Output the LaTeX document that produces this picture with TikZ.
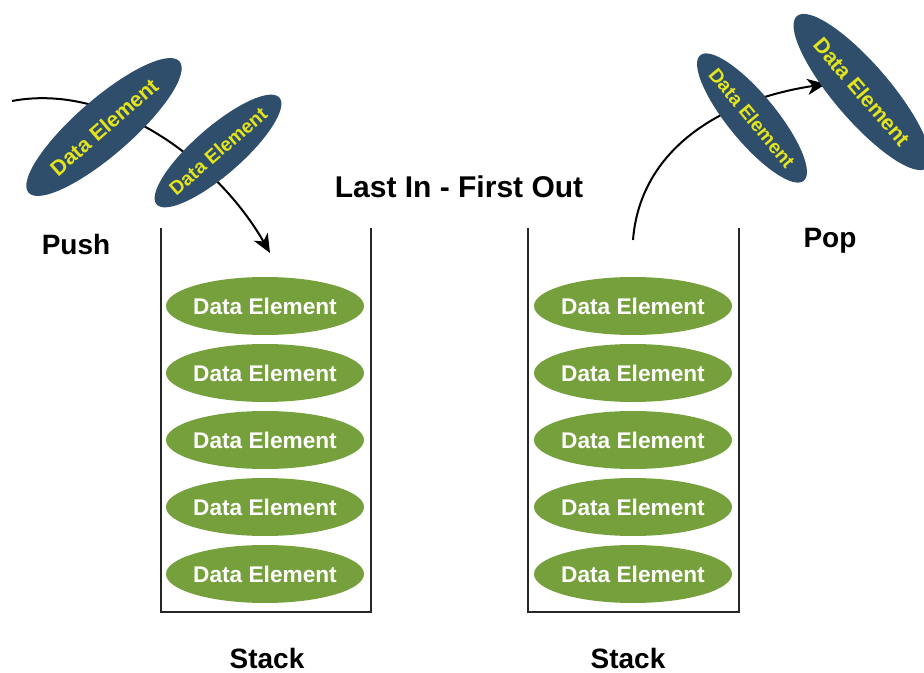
\documentclass[tikz,border=0pt]{standalone}
\usepackage{fontspec}
\setmainfont{Liberation Sans}
\usetikzlibrary{shapes.geometric,arrows.meta}
\definecolor{elgreen}{HTML}{76A03C}
\definecolor{elblue}{HTML}{2E4E6B}
\definecolor{elyellow}{HTML}{E4E41C}
\tikzset{
  greenel/.style={ellipse, fill=elgreen, draw=none, inner sep=0pt,
    minimum width=148.5pt, minimum height=43.5pt},
  greentxt/.style={inner sep=0pt, text=white,
    font=\fontsize{17}{19}\selectfont\bfseries},
  blueelbig/.style={ellipse, fill=elblue, draw=none, inner sep=0pt,
    minimum width=150pt, minimum height=42pt},
  blueelsmall/.style={ellipse, fill=elblue, draw=none, inner sep=0pt,
    minimum width=122pt, minimum height=36pt},
  bluetxtbig/.style={inner sep=0pt, text=elyellow,
    font=\fontsize{16}{18}\selectfont\bfseries},
  bluetxtsmall/.style={inner sep=0pt, text=elyellow,
    font=\fontsize{14.5}{16}\selectfont\bfseries},
  lbl/.style={anchor=base, inner sep=0pt, font=\fontsize{21}{24}\selectfont\bfseries},
  wall/.style={line width=1.5pt, black!85},
  flow/.style={line width=1.5pt, black, -{Stealth[length=14pt,width=12pt,inset=4pt]}}
}
\begin{document}
\begin{tikzpicture}[x=0.75pt,y=-0.75pt]
\useasboundingbox (0,0) rectangle (924,673);
% stacks walls
\coordinate (s1tl) at (161,228);
\coordinate (s1bl) at (161,612);
\coordinate (s1br) at (371,612);
\coordinate (s1tr) at (371,228);
\coordinate (s2tl) at (528,228);
\coordinate (s2bl) at (528,612);
\coordinate (s2br) at (739,612);
\coordinate (s2tr) at (739,228);
\draw[wall] (s1tl) -- (s1bl) -- (s1br) -- (s1tr);
\draw[wall] (s2tl) -- (s2bl) -- (s2br) -- (s2tr);
% green elements
\foreach \i/\yy in {1/306,2/373,3/440,4/507,5/574}{
  \node[greenel] (a\i) at (265,\yy) {};
  \node[greentxt] (at\i) at (a\i.center) {Data Element};
  \node[greenel] (b\i) at (633,\yy) {};
  \node[greentxt] (bt\i) at (b\i.center) {Data Element};
}
% arrows (behind moving elements)
\coordinate (pushStart) at (12,101);
\coordinate (pushEnd) at (270,253);
\draw[flow] (pushStart) .. controls (112,82) and (218,162) .. (pushEnd);
\coordinate (popStart) at (633,240);
\coordinate (popEnd) at (826,84);
\draw[flow] (popStart) .. controls (640,150) and (720,100) .. (popEnd);
% moving elements
\node[blueelbig, rotate=41] (pu1) at (104,127) {};
\node[bluetxtbig, rotate=41] (pu1t) at (pu1.center) {Data Element};
\node[blueelsmall, rotate=41] (pu2) at (218,151) {};
\node[bluetxtsmall, rotate=41] (pu2t) at (pu2.center) {Data Element};
\node[blueelsmall, rotate=-50.5] (po1) at (752,118) {};
\node[bluetxtsmall, rotate=-50.5] (po1t) at (po1.center) {Data Element};
\node[blueelbig, rotate=-49.4] (po2) at (862,92) {};
\node[bluetxtbig, rotate=-49.4] (po2t) at (po2.center) {Data Element};
% labels
\node[lbl, font=\fontsize{22.5}{25}\selectfont\bfseries] (title) at (459,198) {Last In - First Out};
\node[lbl] (push) at (76,255) {Push};
\node[lbl] (pop) at (830,248) {Pop};
\node[lbl] (st1) at (267,668) {Stack};
\node[lbl] (st2) at (628,668) {Stack};
\end{tikzpicture}
\end{document}
